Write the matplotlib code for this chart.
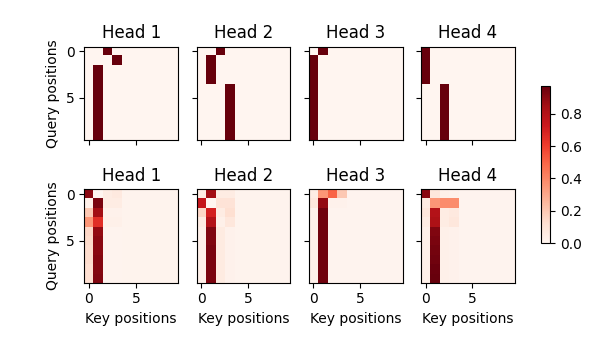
import numpy as np
import matplotlib
matplotlib.use("Agg")
import matplotlib.pyplot as plt

titles = ["Head 1", "Head 2", "Head 3", "Head 4"]
n = 10

def base(fill=0.003):
    return np.full((n, n), fill)

# Top row: (row -> dark column) assignments
top_dark_cols = [
    [2, 3, 1, 1, 1, 1, 1, 1, 1, 1],
    [2, 1, 1, 1, 3, 3, 3, 3, 3, 3],
    [1, 0, 0, 0, 0, 0, 0, 0, 0, 0],
    [0, 0, 0, 0, 2, 2, 2, 2, 2, 2],
]
top_peak = 0.97

# Bottom row: first four columns for every query row, remaining columns value
b1 = [
    [0.90, 0.00, 0.05, 0.07],
    [0.03, 0.93, 0.05, 0.05],
    [0.20, 0.85, 0.02, 0.02],
    [0.35, 0.65, 0.03, 0.03],
    [0.15, 0.88, 0.01, 0.01],
    [0.14, 0.90, 0.01, 0.01],
    [0.13, 0.90, 0.01, 0.01],
    [0.13, 0.91, 0.01, 0.01],
    [0.12, 0.91, 0.01, 0.01],
    [0.12, 0.92, 0.01, 0.01],
]
b2 = [
    [0.05, 0.85, 0.05, 0.05],
    [0.75, 0.00, 0.10, 0.10],
    [0.15, 0.70, 0.05, 0.12],
    [0.05, 0.80, 0.03, 0.08],
    [0.03, 0.92, 0.06, 0.02],
    [0.03, 0.92, 0.06, 0.02],
    [0.03, 0.93, 0.06, 0.02],
    [0.03, 0.93, 0.06, 0.02],
    [0.03, 0.93, 0.06, 0.02],
    [0.03, 0.93, 0.06, 0.02],
]
b3 = [
    [0.05, 0.35, 0.50, 0.20],
    [0.08, 0.88, 0.02, 0.02],
    [0.02, 0.95, 0.01, 0.01],
    [0.02, 0.95, 0.01, 0.01],
    [0.02, 0.95, 0.01, 0.01],
    [0.02, 0.95, 0.01, 0.01],
    [0.02, 0.95, 0.01, 0.01],
    [0.02, 0.95, 0.01, 0.01],
    [0.02, 0.95, 0.01, 0.01],
    [0.02, 0.95, 0.01, 0.01],
]
b4 = [
    [0.90, 0.08, 0.03, 0.02],
    [0.05, 0.35, 0.38, 0.38],
    [0.08, 0.80, 0.05, 0.07],
    [0.05, 0.82, 0.05, 0.08],
    [0.03, 0.92, 0.03, 0.02],
    [0.03, 0.93, 0.03, 0.02],
    [0.03, 0.94, 0.03, 0.02],
    [0.03, 0.95, 0.03, 0.02],
    [0.03, 0.96, 0.03, 0.02],
    [0.03, 0.97, 0.03, 0.02],
]
bottom_rest = [0.015, 0.015, 0.01, 0.01]
bottom_first = [b1, b2, b3, b4]

top_mats = []
for cols in top_dark_cols:
    m = base()
    for r, c in enumerate(cols):
        m[r, c] = top_peak
    top_mats.append(m)

bottom_mats = []
for vals, rest in zip(bottom_first, bottom_rest):
    m = base(rest)
    m[:, :4] = np.array(vals)
    bottom_mats.append(m)

fig = plt.figure(figsize=(6.09, 3.56), dpi=100)
lefts = [0.1384, 0.323, 0.507, 0.691]
bottoms = [0.607, 0.206]
w, h = 0.154, 0.262
vmax = bottom_mats[-1].max()

im = None
for ri, mats in enumerate([top_mats, bottom_mats]):
    for ci, m in enumerate(mats):
        ax = fig.add_axes([lefts[ci], bottoms[ri], w, h])
        im = ax.imshow(m, cmap="Reds", vmin=0, vmax=vmax, aspect="auto")
        ax.set_title(titles[ci], fontsize=12)
        ax.set_xticks([0, 5])
        ax.set_yticks([0, 5])
        if ri == 0:
            ax.set_xticklabels([])
        else:
            ax.set_xlabel("Key positions")
        if ci == 0:
            ax.set_ylabel("Query positions")
        else:
            ax.set_yticklabels([])

cax = fig.add_axes([0.889, 0.317, 0.0148, 0.441])
fig.colorbar(im, cax=cax)
fig.savefig("out.png", dpi=100)
